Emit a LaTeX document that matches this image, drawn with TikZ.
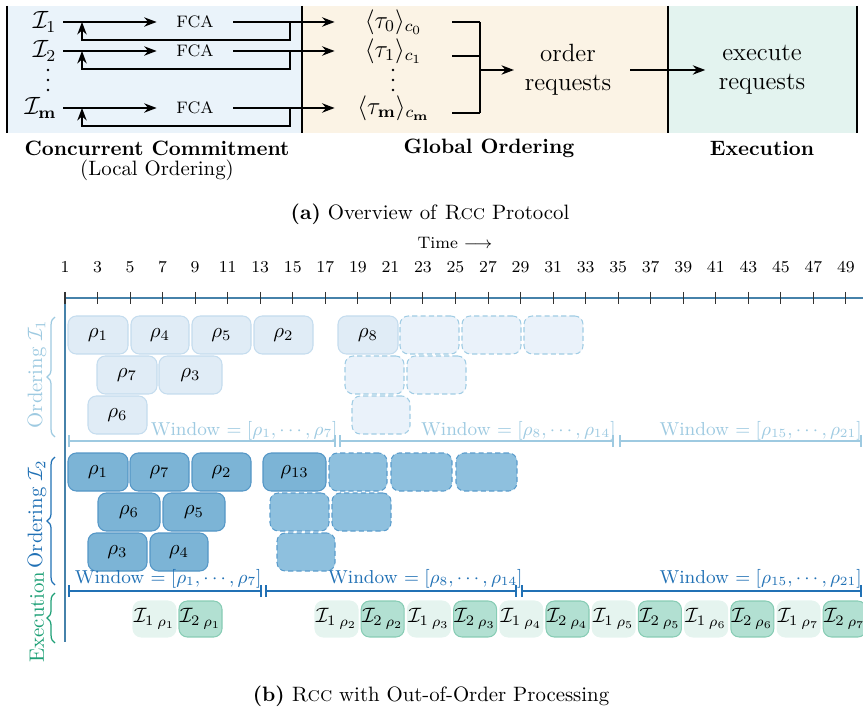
\documentclass[tikz,border=0pt]{standalone}
\usetikzlibrary{arrows.meta,decorations.pathreplacing}
\definecolor{panelA}{RGB}{234,243,250}
\definecolor{panelB}{RGB}{251,243,229}
\definecolor{panelC}{RGB}{227,243,239}
\definecolor{oneFill}{RGB}{224,236,246}
\definecolor{oneLine}{RGB}{196,220,238}
\definecolor{oneDashFill}{RGB}{234,242,250}
\definecolor{oneDashLine}{RGB}{160,204,228}
\definecolor{twoFill}{RGB}{124,180,214}
\definecolor{twoLine}{RGB}{84,150,198}
\definecolor{twoDashFill}{RGB}{142,192,222}
\definecolor{twoDashLine}{RGB}{90,156,204}
\definecolor{exLight}{RGB}{229,244,239}
\definecolor{exDark}{RGB}{178,224,210}
\definecolor{exLine}{RGB}{135,204,180}
\definecolor{oneC}{RGB}{158,202,225}
\definecolor{twoC}{RGB}{33,113,181}
\definecolor{exC}{RGB}{30,160,118}
\definecolor{axisC}{RGB}{70,130,170}
\begin{document}
\begin{tikzpicture}[x=0.4808pt, y=-0.4808pt,
  arr/.style={line width=0.8pt, -{Stealth[length=6pt,width=4.5pt]}},
  wire/.style={line width=0.8pt},
  ilab/.style={anchor=east, inner sep=3pt, font=\large},
  fca/.style={minimum width=36.5pt, inner sep=0pt, font=\footnotesize},
  tau/.style={minimum width=56.25pt, inner sep=0pt, font=\large},
  obox/.style={rectangle, rounded corners=4pt, inner sep=0pt, minimum height=18.27pt, line width=0.5pt},
  oneS/.style={obox, fill=oneFill, draw=oneLine},
  oneD/.style={obox, fill=oneDashFill, draw=oneDashLine, dash pattern=on 2.5pt off 1.5pt},
  twoS/.style={obox, fill=twoFill, draw=twoLine},
  twoD/.style={obox, fill=twoDashFill, draw=twoDashLine, dash pattern=on 2.5pt off 1.5pt},
  exA/.style={obox, minimum height=17.3pt, minimum width=20.67pt, fill=exLight, draw=exLight},
  exB/.style={obox, minimum height=17.3pt, minimum width=20.67pt, fill=exDark, draw=exLine},
  winOne/.style={draw=oneC, line width=1pt, {Bar[width=6pt]}-{Bar[width=6pt]}},
  winTwo/.style={draw=twoC, line width=1pt, {Bar[width=6pt]}-{Bar[width=6pt]}},
  wlab/.style={font=\small, anchor=base east, inner sep=0pt},
  axis/.style={draw=axisC, line width=0.7pt},
  tickl/.style={font=\footnotesize, inner sep=0pt},
  sidel/.style={rotate=90, inner sep=0pt},
]
\useasboundingbox (0,0) rectangle (863,712);

% ---------- (a) pipeline panels ----------
\fill[panelA] (7,6) rectangle (302,133);
\fill[panelB] (302,6) rectangle (668,133);
\fill[panelC] (668,6) rectangle (857,133);
\foreach \x in {7,302,668,857} \draw[line width=0.8pt] (\x,6) -- (\x,133);

\node[ilab] (i1) at (63,22) {$\mathcal{I}_1$};
\node[ilab] (i2) at (63,51) {$\mathcal{I}_2$};
\node[ilab] (im) at (63,108) {$\mathcal{I}_{\mathbf{m}}$};

\node[fca] (f1) at (195,22) {FCA};
\node[fca] (f2) at (195,51) {FCA};
\node[fca] (fm) at (195,108) {FCA};

\node[tau] (t0) at (393.5,22) {$\langle\tau_0\rangle_{c_0}$};
\node[tau] (t1) at (393.5,51) {$\langle\tau_1\rangle_{c_1}$};
\node[tau] (tm) at (393.5,108) {$\langle\tau_{\mathbf{m}}\rangle_{c_{\mathbf{m}}}$};

% vertical ellipses between the second and the last row
\foreach \x in {48,393}
  \foreach \y in {70,80,90}
    \fill (\x,\y) circle (0.65pt);

\draw[arr] (i1.east) -- (f1.west);
\draw[arr] (i2.east) -- (f2.west);
\draw[arr] (im.east) -- (fm.west);
\draw[arr] (f1.east) -- (t0.west);
\draw[arr] (f2.east) -- (t1.west);
\draw[arr] (fm.east) -- (tm.west);

% feedback loops back to each replica
\coordinate (s1) at (290,22);  \coordinate (j1) at (82,22);
\coordinate (s2) at (290,51);  \coordinate (j2) at (82,51);
\coordinate (sm) at (290,108); \coordinate (jm) at (82,108);
\draw[arr] (s1) -- (290,40) -- (82,40) -- (j1);
\draw[arr] (s2) -- (290,69) -- (82,69) -- (j2);
\draw[arr] (sm) -- (290,126) -- (82,126) -- (jm);

% merge into the global order
\coordinate (k0) at (480,22);
\coordinate (k1) at (480,56);
\coordinate (km) at (480,113);
\coordinate (kj) at (480,70);
\draw[wire] (t0.east) -- (k0);
\draw[wire] (t1.east) ++(0,5) -- (k1);
\draw[wire] (tm.east) ++(0,5) -- (km);
\draw[wire] (k0) -- (km);

\node[font=\large, align=center, inner xsep=5pt] (ord) at (568,70) {order\\requests};
\node[font=\large, align=center, inner xsep=6.3pt] (exe) at (762,70) {execute\\requests};
\draw[arr] (kj) -- (ord.west);
\draw[arr, shorten <=4pt] (ord.east) -- (exe.west);

\node[font=\bfseries] (ccl) at (157,148) {Concurrent Commitment};
\node (lol) at (157,170) {(Local Ordering)};
\node[font=\bfseries] (gol) at (489,148) {Global Ordering};
\node[font=\bfseries] (exl) at (762,148) {Execution};
\node (capA) at (430,214) {\textbf{(a)} Overview of \textsc{Rcc} Protocol};

% ---------- (b) timeline ----------
\node[font=\footnotesize] (time) at (455,243) {Time $\longrightarrow$};
\draw[axis] (65,298) -- (863,298);
\draw[axis] (65,298) -- (65,642);
\foreach \k in {1,3,...,49} {
  \pgfmathsetmacro\tx{65+(\k-1)*16.27}
  \node[tickl] (tl\k) at (\tx,267) {\k};
  \draw[line width=0.5pt, black!80] (\tx,292) -- (\tx,304);
}

% ordering on replica 1
\foreach \nm/\a/\b/\y/\k in {oa1/68/128/335/1, oa4/131/189/335/4, oa5/192/251/335/5,
    oa2/254/313/335/2, oa8/338/398/335/8, oa7/97/157/375/7, oa3/159/222/375/3, oa6/88/147/415/6}
  \node[oneS, minimum width={(\b-\a)*0.4808pt}] (\nm) at ({(\a+\b)/2},\y) {$\rho_{\k}$};
\foreach \nm/\a/\b/\y in {od1/400/459/335, od2/462/521/335, od3/524/583/335,
    od4/345/404/375, od5/407/466/375, od6/352/410/415}
  \node[oneD, minimum width={(\b-\a)*0.4808pt}] (\nm) at ({(\a+\b)/2},\y) {};

\draw[winOne] (68,441) -- (336,441);
\draw[winOne] (339,441) -- (614,441);
\draw[winOne] (619,441) -- (862,441);
\node[wlab, text=oneC] (w1a) at (338,435) {Window $= [\rho_1, \cdots, \rho_7]$};
\node[wlab, text=oneC] (w1b) at (616,435) {Window $= [\rho_8, \cdots, \rho_{14}]$};
\node[wlab, text=oneC] (w1c) at (862,435) {Window $= [\rho_{15}, \cdots, \rho_{21}]$};

% ordering on replica 2
\foreach \nm/\a/\b/\y/\k in {ob1/68/128/472/1, ob7/130/189/472/7, ob2/192/251/472/2,
    ob13/263/326/472/13, ob6/98/160/512/6, ob5/163/225/512/5, ob3/88/147/552/3, ob4/150/208/552/4}
  \node[twoS, minimum width={(\b-\a)*0.4808pt}] (\nm) at ({(\a+\b)/2},\y) {$\rho_{\k}$};
\foreach \nm/\a/\b/\y in {oe1/329/387/472, oe2/391/452/472, oe3/456/517/472,
    oe4/270/329/512, oe5/332/391/512, oe6/277/335/552}
  \node[twoD, minimum width={(\b-\a)*0.4808pt}] (\nm) at ({(\a+\b)/2},\y) {};

\draw[winTwo] (68,591) -- (262,591);
\draw[winTwo] (265,591) -- (517,591);
\draw[winTwo] (521,591) -- (862,591);
\node[wlab, text=twoC] (w2a) at (262,583) {Window $= [\rho_1, \cdots, \rho_7]$};
\node[wlab, text=twoC] (w2b) at (523,583) {Window $= [\rho_8, \cdots, \rho_{14}]$};
\node[wlab, text=twoC] (w2c) at (862,583) {Window $= [\rho_{15}, \cdots, \rho_{21}]$};

% execution
\node[exA] (ea1) at (154.5,619) {${\mathcal{I}_1}_{\,\rho_1}$};
\node[exB] (eb1) at (200.5,619) {${\mathcal{I}_2}_{\,\rho_1}$};
\foreach \k in {2,...,7} {
  \pgfmathsetmacro\xa{315+(\k-2)*92.4+21.5}
  \pgfmathsetmacro\xb{\xa+46.2}
  \node[exA] (ea\k) at (\xa,619) {${\mathcal{I}_1}_{\,\rho_{\k}}$};
  \node[exB] (eb\k) at (\xb,619) {${\mathcal{I}_2}_{\,\rho_{\k}}$};
}

% side labels with braces
\node[sidel, text=oneC] (lab1) at (37,374) {Ordering $\mathcal{I}_1$};
\node[sidel, text=twoC] (lab2) at (37,514) {Ordering $\mathcal{I}_2$};
\node[sidel, text=exC] (lab3) at (37,617) {Execution};
\draw[oneC, line width=0.6pt, decorate, decoration={brace, amplitude=3.8pt}] (55,437) -- (55,317);
\draw[twoC, line width=0.6pt, decorate, decoration={brace, amplitude=3.8pt}] (55,585) -- (55,457);
\draw[exC, line width=0.6pt, decorate, decoration={brace, amplitude=3.8pt}] (55,643) -- (55,593);

\node (capB) at (431,696) {\textbf{(b)} \textsc{Rcc} with Out-of-Order Processing};
\end{tikzpicture}
\end{document}
